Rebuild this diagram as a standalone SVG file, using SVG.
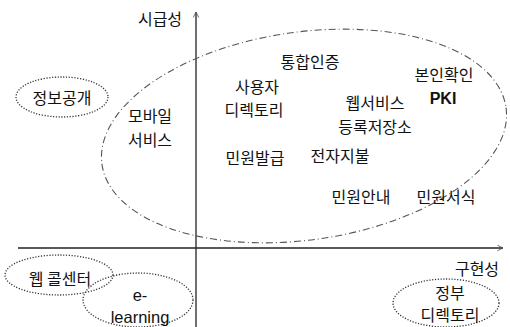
<svg xmlns="http://www.w3.org/2000/svg" width="510" height="327" viewBox="0 0 510 327">
<defs>
<marker id="arr" viewBox="0 0 10 10" refX="9" refY="5" markerWidth="7" markerHeight="7" orient="auto-start-reverse" markerUnits="userSpaceOnUse">
<path d="M1,1 L9,5 L1,9" fill="none" stroke="#555" stroke-width="1.2"/>
</marker>
</defs>
<style>
text{font-family:"Noto Sans CJK KR","Liberation Sans",sans-serif;font-size:16px;fill:#111;text-anchor:middle;dominant-baseline:central}
.b{font-family:"Liberation Sans",sans-serif;font-weight:bold}
.lat{font-family:"Liberation Sans",sans-serif;font-size:16.5px}
.big{fill:none;stroke:#555;stroke-width:1.1;stroke-dasharray:7 3 1 3}
.dot{fill:none;stroke:#333;stroke-width:1.3;stroke-dasharray:1.2 1.6}
.axis{stroke:#222;stroke-width:1.3;fill:none}
</style>
<rect width="510" height="327" fill="#fff"/>
<g id="connectors">
<line class="axis" x1="196" y1="327" x2="196" y2="12" marker-end="url(#arr)"/>
<line class="axis" x1="18" y1="248" x2="503" y2="248" marker-end="url(#arr)"/>
</g>
<g id="main-region">
<ellipse class="big" cx="304" cy="136" rx="204" ry="104" transform="rotate(-8 304 136)"/>
</g>
<g id="axis-y-label"><text x="160" y="18">시급성</text></g>
<g id="axis-x-label"><text x="477" y="268">구현성</text></g>
<g id="n-info"><ellipse class="dot" cx="62" cy="97" rx="46" ry="20"/><text x="62" y="97">정보공개</text></g>
<g id="n-mobile"><text x="150" y="115">모바일</text><text x="150" y="139">서비스</text></g>
<g id="n-auth"><text x="310" y="61">통합인증</text></g>
<g id="n-userdir"><text x="257" y="86">사용자</text><text x="254" y="109">디렉토리</text></g>
<g id="n-pki"><text x="444" y="74">본인확인</text><text class="b" x="443" y="98">PKI</text></g>
<g id="n-webservice"><text x="375" y="102">웹서비스</text><text x="375" y="126">등록저장소</text></g>
<g id="n-issue"><text x="255" y="157">민원발급</text></g>
<g id="n-payment"><text x="340" y="155">전자지불</text></g>
<g id="n-guide"><text x="361" y="196">민원안내</text></g>
<g id="n-forms"><text x="446" y="196">민원서식</text></g>
<g id="n-callcenter"><ellipse class="dot" cx="59" cy="275" rx="54" ry="20"/><text x="60" y="278">웹 콜센터</text></g>
<g id="n-elearning"><ellipse class="dot" cx="138" cy="300" rx="55" ry="27"/><text class="lat" x="140" y="295">e-</text><text class="lat" x="140" y="317">learning</text></g>
<g id="n-govdir"><ellipse class="dot" cx="446" cy="303" rx="53" ry="24"/><text x="450" y="292">정부</text><text x="450" y="314">디렉토리</text></g>
</svg>
